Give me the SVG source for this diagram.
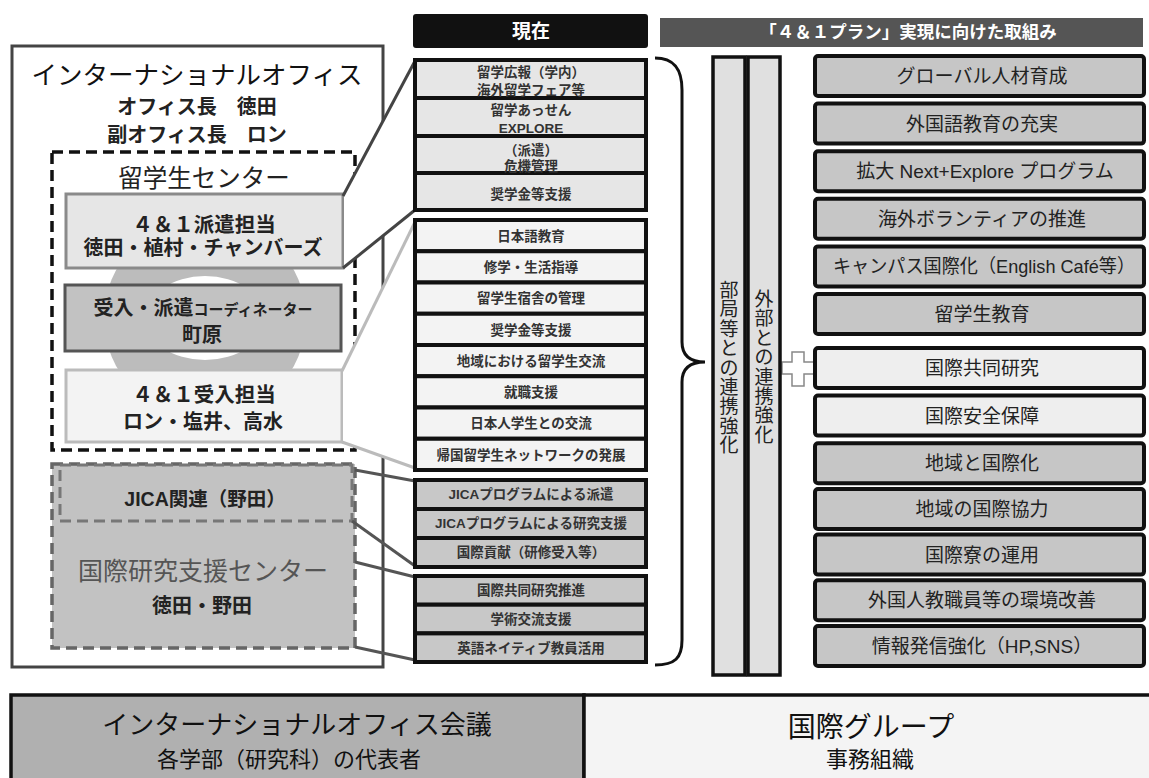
<svg xmlns="http://www.w3.org/2000/svg" width="1149" height="778" viewBox="0 0 1149 778">
<style>
text{font-family:"Liberation Sans","Noto Sans CJK JP",sans-serif;text-anchor:middle;fill:#222}
.b{font-weight:bold}
.lt{font-size:13.5px;font-weight:bold;fill:#333}
.rb{fill:#c6c6c6;stroke:#111;stroke-width:4}
.rbl{fill:#eeeeee;stroke:#111;stroke-width:4}
.rt{font-size:19px;fill:#222}
.r1{fill:#e6e6e6;stroke:#111;stroke-width:4}
.r2{fill:#f3f3f3;stroke:#111;stroke-width:4}
.r3{fill:#c8c8c8;stroke:#111;stroke-width:4}
.vt{font-size:19px;fill:#222;dominant-baseline:central}
</style>
<rect width="1149" height="778" fill="#fff"/>

<!-- left outer office -->
<g id="office">
<rect x="12" y="46" width="371" height="621" fill="#fff" stroke="#444" stroke-width="3"/>
<text x="197" y="84" style="font-size:25.5px;fill:#111">インターナショナルオフィス</text>
<text x="197" y="114" class="b" style="font-size:20px">オフィス長　徳田</text>
<text x="197" y="142" class="b" style="font-size:20px">副オフィス長　ロン</text>
</g>

<g id="ryugakusei-center">
<rect x="52" y="152" width="303" height="298" fill="none" stroke="#111" stroke-width="3.5" stroke-dasharray="11 6"/>
<text x="204" y="187" style="font-size:24.5px">留学生センター</text>
</g>

<g id="ring">
<circle cx="205" cy="318" r="101" fill="#bcbcbc"/>
<ellipse cx="205" cy="318" rx="60" ry="42" fill="#fff"/>
</g>

<g id="haken">
<rect x="66" y="194" width="277" height="74" fill="#e6e6e6" stroke="#8a8a8a" stroke-width="3"/>
<text x="204" y="232" class="b" style="font-size:20.5px">４＆１派遣担当</text>
<text x="203" y="255" class="b" style="font-size:20px">徳田・植村・チャンバーズ</text>
</g>

<g id="coordinator">
<rect x="65" y="285" width="276" height="66" fill="#c2c2c2" stroke="#555" stroke-width="3"/>
<text x="203" y="315" class="b" style="font-size:20px">受入・派遣<tspan style="font-size:15px">コーディネーター</tspan></text>
<text x="202" y="342" class="b" style="font-size:20px">町原</text>
</g>

<g id="ukeire">
<rect x="66" y="370" width="276" height="72" fill="#f3f3f3" stroke="#bbb" stroke-width="3"/>
<text x="204" y="402" class="b" style="font-size:20.5px">４＆１受入担当</text>
<text x="203" y="429" class="b" style="font-size:20px">ロン・塩井、高水</text>
</g>

<g id="research-center">
<rect x="52" y="464" width="303" height="184" fill="#c2c2c2" stroke="#666" stroke-width="3.5" stroke-dasharray="11 6"/>
<text x="203" y="580" style="font-size:25px;fill:#555">国際研究支援センター</text>
<text x="202" y="613" class="b" style="font-size:20px">徳田・野田</text>
</g>

<g id="jica">
<rect x="60" y="465" width="292" height="56" fill="none" stroke="#777" stroke-width="3" stroke-dasharray="11 6"/>
<text x="205" y="506" class="b" style="font-size:19.5px">JICA関連（野田）</text>
</g>

<!-- connectors -->
<g id="connectors">
<polygon points="344,194 415,60 415,210 344,268" fill="#fff"/>
<line x1="343" y1="196" x2="415" y2="61" stroke="#444" stroke-width="3"/>
<line x1="343" y1="268" x2="415" y2="210" stroke="#444" stroke-width="3"/>
<polygon points="343,370 415,221 415,469 343,442" fill="#fff"/>
<line x1="342" y1="371" x2="415" y2="222" stroke="#bbb" stroke-width="3"/>
<line x1="342" y1="442" x2="415" y2="468" stroke="#bbb" stroke-width="3"/>
<line x1="355" y1="470" x2="415" y2="481" stroke="#555" stroke-width="3"/>
<line x1="352" y1="521" x2="415" y2="566" stroke="#555" stroke-width="3"/>
<line x1="355" y1="562" x2="415" y2="577" stroke="#555" stroke-width="3"/>
<line x1="355" y1="647" x2="415" y2="660" stroke="#555" stroke-width="3"/>
<path d="M655,58 C675,58 682,70 682,90 L682,342 C682,356 690,362 705,362 C690,362 682,368 682,382 L682,640 C682,658 675,665 655,665" fill="none" stroke="#111" stroke-width="3"/>
<polygon points="792,352 804,352 804,362 814,362 814,374 804,374 804,386 792,386 792,374 782,374 782,362 792,362" fill="#fff" stroke="#888" stroke-width="1.5"/>
</g>

<!-- headers -->
<g id="header-now">
<rect x="413" y="14" width="235" height="34" rx="3" fill="#111"/>
<text x="531" y="38" class="b" style="font-size:19px;fill:#fff">現在</text>
</g>
<g id="header-plan">
<rect x="660" y="18" width="483" height="29" fill="#555"/>
<text x="908" y="38" class="b" style="font-size:17.5px;fill:#fff">「４＆１プラン」実現に向けた取組み</text>
</g>

<!-- list 1 -->
<g id="list-haken">
<rect class="r1" x="415" y="60" width="231" height="38"/>
<rect class="r1" x="415" y="98" width="231" height="38"/>
<rect class="r1" x="415" y="136" width="231" height="37"/>
<rect class="r1" x="415" y="173" width="231" height="37"/>
<text class="lt" x="531" y="77">留学広報（学内）</text>
<text class="lt" x="531" y="95">海外留学フェア等</text>
<text class="lt" x="531" y="115">留学あっせん</text>
<text class="lt" x="531" y="133">EXPLORE</text>
<text class="lt" x="531" y="155">（派遣）</text>
<text class="lt" x="531" y="171">危機管理</text>
<text class="lt" x="531" y="199">奨学金等支援</text>
</g>

<!-- list 2 -->
<g id="list-ukeire">
<rect class="r2" x="415" y="220" width="231" height="31.25"/>
<rect class="r2" x="415" y="251.25" width="231" height="31.25"/>
<rect class="r2" x="415" y="282.5" width="231" height="31.25"/>
<rect class="r2" x="415" y="313.75" width="231" height="31.25"/>
<rect class="r2" x="415" y="345" width="231" height="31.25"/>
<rect class="r2" x="415" y="376.25" width="231" height="31.25"/>
<rect class="r2" x="415" y="407.5" width="231" height="31.25"/>
<rect class="r2" x="415" y="438.75" width="231" height="31.25"/>
<text class="lt" x="531" y="241">日本語教育</text>
<text class="lt" x="531" y="272">修学・生活指導</text>
<text class="lt" x="531" y="303">留学生宿舎の管理</text>
<text class="lt" x="531" y="335">奨学金等支援</text>
<text class="lt" x="531" y="366">地域における留学生交流</text>
<text class="lt" x="531" y="397">就職支援</text>
<text class="lt" x="531" y="428">日本人学生との交流</text>
<text class="lt" x="531" y="460">帰国留学生ネットワークの発展</text>
</g>

<!-- list 3 -->
<g id="list-jica">
<rect class="r3" x="415" y="480" width="231" height="29"/>
<rect class="r3" x="415" y="509" width="231" height="29"/>
<rect class="r3" x="415" y="538" width="231" height="29"/>
<text class="lt" x="531" y="499">JICAプログラムによる派遣</text>
<text class="lt" x="531" y="528">JICAプログラムによる研究支援</text>
<text class="lt" x="531" y="557">国際貢献（研修受入等）</text>
</g>

<!-- list 4 -->
<g id="list-research">
<rect class="r3" x="415" y="576" width="231" height="28.7"/>
<rect class="r3" x="415" y="604.7" width="231" height="28.7"/>
<rect class="r3" x="415" y="633.4" width="231" height="28.6"/>
<text class="lt" x="531" y="595">国際共同研究推進</text>
<text class="lt" x="531" y="624">学術交流支援</text>
<text class="lt" x="531" y="653">英語ネイティブ教員活用</text>
</g>

<!-- vertical bars -->
<g id="bar-bukyoku">
<rect x="713" y="57" width="32" height="618" fill="#e0e0e0" stroke="#111" stroke-width="3.5"/>
<text class="vt"><tspan x="729" y="290">部</tspan><tspan x="729" y="309.4">局</tspan><tspan x="729" y="328.8">等</tspan><tspan x="729" y="348.2">と</tspan><tspan x="729" y="367.6">の</tspan><tspan x="729" y="387">連</tspan><tspan x="729" y="406.4">携</tspan><tspan x="729" y="425.8">強</tspan><tspan x="729" y="445.2">化</tspan></text>
</g>
<g id="bar-gaibu">
<rect x="748" y="57" width="32" height="618" fill="#e0e0e0" stroke="#111" stroke-width="3.5"/>
<text class="vt"><tspan x="764" y="299">外</tspan><tspan x="764" y="318.4">部</tspan><tspan x="764" y="337.8">と</tspan><tspan x="764" y="357.2">の</tspan><tspan x="764" y="376.6">連</tspan><tspan x="764" y="396">携</tspan><tspan x="764" y="415.4">強</tspan><tspan x="764" y="434.8">化</tspan></text>
</g>

<!-- right boxes -->
<g id="goal-1"><rect class="rb" x="815" y="56" width="329" height="40" rx="3"/><text class="rt" x="982" y="83">グローバル人材育成</text></g>
<g id="goal-2"><rect class="rb" x="815" y="103.6" width="329" height="40" rx="3"/><text class="rt" x="982" y="130.6">外国語教育の充実</text></g>
<g id="goal-3"><rect class="rb" x="815" y="151.2" width="329" height="40" rx="3"/><text class="rt" x="985" y="178.2">拡大 Next+Explore プログラム</text></g>
<g id="goal-4"><rect class="rb" x="815" y="198.8" width="329" height="40" rx="3"/><text class="rt" x="982" y="225.8">海外ボランティアの推進</text></g>
<g id="goal-5"><rect class="rb" x="815" y="246.4" width="329" height="40" rx="3"/><text class="rt" x="984" y="273.4" textLength="302" lengthAdjust="spacingAndGlyphs">キャンパス国際化（English Café等）</text></g>
<g id="goal-6"><rect class="rb" x="815" y="294" width="329" height="40" rx="3"/><text class="rt" x="982" y="321">留学生教育</text></g>
<g id="goal-7"><rect class="rbl" x="815" y="348" width="329" height="40" rx="3"/><text class="rt" x="982" y="375">国際共同研究</text></g>
<g id="goal-8"><rect class="rbl" x="815" y="395.6" width="329" height="40" rx="3"/><text class="rt" x="982" y="422.6">国際安全保障</text></g>
<g id="goal-9"><rect class="rb" x="815" y="443.2" width="329" height="40" rx="3"/><text class="rt" x="982" y="470.2">地域と国際化</text></g>
<g id="goal-10"><rect class="rb" x="815" y="489" width="329" height="40" rx="3"/><text class="rt" x="982" y="516">地域の国際協力</text></g>
<g id="goal-11"><rect class="rb" x="815" y="534.6" width="329" height="40" rx="3"/><text class="rt" x="982" y="561.6">国際寮の運用</text></g>
<g id="goal-12"><rect class="rb" x="815" y="580.2" width="329" height="40" rx="3"/><text class="rt" x="982" y="607.2">外国人教職員等の環境改善</text></g>
<g id="goal-13"><rect class="rb" x="815" y="626" width="329" height="40" rx="3"/><text class="rt" x="982" y="653">情報発信強化（HP,SNS）</text></g>

<!-- bottom -->
<g id="office-meeting">
<rect x="11" y="695" width="573" height="95" fill="#b0b0b0" stroke="#111" stroke-width="3.5"/>
<text x="297" y="734" style="font-size:26px;fill:#111">インターナショナルオフィス会議</text>
<text x="289" y="767" style="font-size:22px;fill:#111">各学部（研究科）の代表者</text>
</g>
<g id="kokusai-group">
<rect x="584" y="695" width="575" height="95" fill="#f4f4f4" stroke="#111" stroke-width="3.5"/>
<text x="871" y="737" style="font-size:28px;fill:#111">国際グループ</text>
<text x="870" y="767" style="font-size:22px;fill:#111">事務組織</text>
</g>
</svg>
